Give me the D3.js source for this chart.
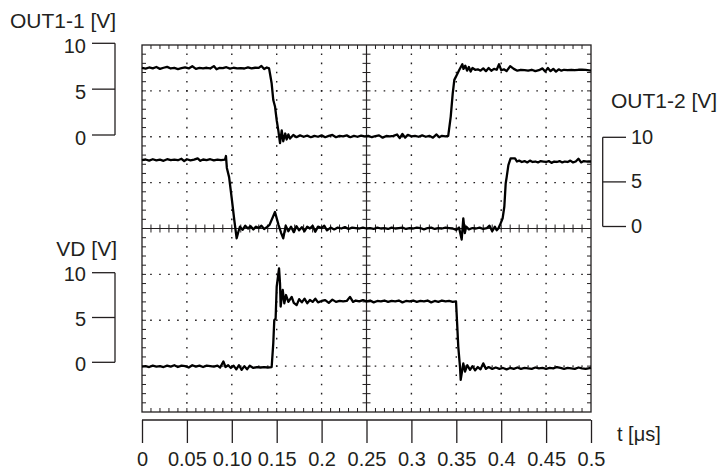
<!DOCTYPE html>
<html><head><meta charset="utf-8">
<script src="https://cdn.jsdelivr.net/npm/d3@7"></script>
<style>
html,body{margin:0;padding:0;background:#fff;}
svg{display:block;}
text{font-family:"Liberation Sans",Arial,Helvetica,sans-serif;fill:#231f20;}
</style></head>
<body>
<svg id="chart" width="721" height="471"></svg>
<script>
// ---------- data ----------
const timeTicks = [0,0.05,0.10,0.15,0.2,0.25,0.3,0.35,0.4,0.45,0.5];
const timeTickLabels = ["0","0.05","0.10","0.15","0.2","0.25","0.3","0.35","0.4","0.45","0.5"];
const voltTicks = [0,5,10];
const voltTickLabels = ["0","5","10"];
const titles = {out11:"OUT1-1 [V]", out12:"OUT1-2 [V]", vd:"VD [V]", t:"t [μs]"};

const out11 = [[0,7.5],[0.004,7.42],[0.008,7.55],[0.012,7.45],[0.016,7.6],[0.02,7.4],[0.024,7.52],[0.028,7.62],[0.032,7.44],[0.036,7.5],[0.04,7.38],[0.044,7.47],[0.048,7.55],[0.052,7.45],[0.056,7.68],[0.06,7.4],[0.064,7.5],[0.068,7.46],[0.072,7.52],[0.076,7.44],[0.08,7.7],[0.083,7.36],[0.086,7.5],[0.09,7.47],[0.094,7.58],[0.098,7.42],[0.102,7.52],[0.106,7.46],[0.11,7.48],[0.114,7.44],[0.118,7.55],[0.122,7.45],[0.126,7.52],[0.13,7.5],[0.133,7.72],[0.136,7.38],[0.139,7.55],[0.1415,7.45],[0.1425,6.9],[0.1444,5.8],[0.1462,4.0],[0.1481,3.3],[0.15,1.8],[0.1518,0.7],[0.1537,-0.7],[0.1556,0.7],[0.1573,-0.5],[0.1595,0.35],[0.1611,-0.3],[0.163,0.25],[0.1648,-0.2],[0.1685,0.2],[0.172,-0.05],[0.176,0.15],[0.18,0.0],[0.184,0.12],[0.188,-0.05],[0.192,0.1],[0.196,0.0],[0.2,0.15],[0.204,-0.05],[0.208,0.1],[0.212,0.2],[0.216,-0.05],[0.22,0.1],[0.224,0.05],[0.228,0.15],[0.232,-0.05],[0.236,0.1],[0.24,0.0],[0.244,0.12],[0.248,0.05],[0.252,0.1],[0.256,-0.05],[0.26,0.08],[0.264,0.15],[0.268,-0.1],[0.272,0.08],[0.276,0.05],[0.28,0.1],[0.284,0.25],[0.287,-0.15],[0.29,0.3],[0.293,-0.1],[0.296,0.2],[0.3,0.05],[0.304,0.1],[0.308,0.0],[0.312,0.15],[0.316,0.0],[0.32,0.1],[0.324,-0.1],[0.328,0.25],[0.331,-0.05],[0.334,0.1],[0.338,0.05],[0.341,0.1],[0.3438,2.2],[0.346,4.7],[0.3478,6.2],[0.3504,6.7],[0.3534,7.3],[0.3567,7.9],[0.358,7.4],[0.36,7.75],[0.362,7.2],[0.364,7.6],[0.366,7.1],[0.368,7.5],[0.371,7.3],[0.374,7.35],[0.377,7.2],[0.38,7.45],[0.383,7.15],[0.386,7.5],[0.389,7.2],[0.392,7.4],[0.395,7.3],[0.3976,7.9],[0.4,7.25],[0.403,7.35],[0.406,7.15],[0.41,7.7],[0.414,7.4],[0.418,7.2],[0.422,7.3],[0.426,7.25],[0.43,7.2],[0.434,7.3],[0.438,7.15],[0.442,7.25],[0.446,7.45],[0.449,7.1],[0.452,7.5],[0.455,7.15],[0.458,7.4],[0.461,7.1],[0.464,7.35],[0.467,7.2],[0.47,7.3],[0.474,7.25],[0.478,7.3],[0.482,7.25],[0.486,7.3],[0.49,7.3],[0.494,7.28],[0.5,7.2]];

const out12 = [[0,7.45],[0.004,7.52],[0.008,7.4],[0.012,7.55],[0.016,7.42],[0.02,7.5],[0.024,7.38],[0.028,7.55],[0.032,7.45],[0.036,7.5],[0.04,7.44],[0.044,7.6],[0.047,7.35],[0.05,7.55],[0.054,7.42],[0.058,7.5],[0.062,7.65],[0.065,7.38],[0.068,7.52],[0.072,7.45],[0.076,7.55],[0.08,7.42],[0.084,7.5],[0.088,7.45],[0.0924,7.5],[0.0935,7.9],[0.0945,6.6],[0.097,5.6],[0.0999,3.3],[0.1028,0.9],[0.1054,-1.07],[0.1075,-0.3],[0.1091,0.2],[0.112,-0.15],[0.115,0.3],[0.118,0.0],[0.121,0.25],[0.124,-0.1],[0.127,0.2],[0.13,0.05],[0.133,0.3],[0.136,-0.05],[0.139,0.15],[0.142,0.4],[0.1481,1.8],[0.152,0.4],[0.155,-0.5],[0.1573,-1.07],[0.16,0.3],[0.163,-0.3],[0.166,0.2],[0.169,-0.4],[0.172,0.25],[0.175,-0.2],[0.178,0.15],[0.181,-0.3],[0.184,0.2],[0.187,0.0],[0.19,0.3],[0.193,-0.35],[0.196,0.2],[0.2,0.05],[0.203,0.3],[0.206,-0.2],[0.21,0.1],[0.214,-0.1],[0.218,0.1],[0.222,0.0],[0.226,0.15],[0.23,-0.05],[0.234,0.1],[0.238,0.05],[0.242,0.0],[0.246,0.1],[0.25,0.0],[0.254,0.05],[0.258,-0.05],[0.262,0.1],[0.266,0.0],[0.27,0.05],[0.274,-0.05],[0.278,0.1],[0.282,0.0],[0.286,0.05],[0.29,0.1],[0.294,-0.05],[0.298,0.05],[0.302,0.0],[0.306,0.1],[0.31,0.05],[0.314,-0.1],[0.318,0.05],[0.322,0.1],[0.326,-0.05],[0.33,0.05],[0.334,0.0],[0.338,0.1],[0.342,0.05],[0.346,0.0],[0.35,-0.15],[0.353,0.1],[0.356,-1.2],[0.3578,1.1],[0.3595,-0.5],[0.361,0.2],[0.364,-0.1],[0.368,0.05],[0.372,0.0],[0.376,0.1],[0.38,-0.05],[0.384,0.05],[0.387,0.3],[0.39,-0.3],[0.393,0.2],[0.395,-0.2],[0.3968,0.0],[0.3987,0.4],[0.4016,1.1],[0.4035,2.4],[0.405,4.9],[0.4061,5.6],[0.408,6.9],[0.4105,7.65],[0.4154,7.65],[0.4175,7.3],[0.42,7.4],[0.423,7.25],[0.426,7.35],[0.429,7.2],[0.432,7.4],[0.435,7.25],[0.438,7.3],[0.441,7.2],[0.444,7.35],[0.447,7.3],[0.45,7.25],[0.453,7.35],[0.456,7.15],[0.459,7.3],[0.462,7.25],[0.465,7.35],[0.468,7.2],[0.471,7.3],[0.474,7.25],[0.477,7.4],[0.48,7.2],[0.483,7.3],[0.486,7.6],[0.489,7.2],[0.492,7.35],[0.496,7.3],[0.5,7.3]];

const vd = [[0,-0.05],[0.004,0.0],[0.008,-0.1],[0.012,0.05],[0.016,-0.05],[0.02,0.0],[0.024,-0.1],[0.028,0.05],[0.032,-0.05],[0.036,0.1],[0.04,-0.1],[0.044,0.05],[0.048,0.0],[0.052,-0.15],[0.056,0.1],[0.06,-0.05],[0.064,0.05],[0.068,-0.1],[0.072,0.05],[0.076,0.0],[0.08,-0.05],[0.084,0.05],[0.087,-0.15],[0.0906,0.5],[0.093,-0.1],[0.096,0.1],[0.099,-0.2],[0.102,0.05],[0.105,-0.35],[0.108,0.1],[0.111,-0.4],[0.114,0.0],[0.117,-0.35],[0.12,0.05],[0.124,-0.2],[0.128,-0.1],[0.132,-0.15],[0.136,-0.1],[0.14,-0.15],[0.1444,-0.1],[0.1462,2.5],[0.1473,5.0],[0.1488,5.2],[0.15,8.65],[0.1526,10.66],[0.1537,9.0],[0.1544,6.5],[0.1567,8.3],[0.1585,6.85],[0.1604,7.75],[0.163,7.0],[0.1667,7.55],[0.169,6.9],[0.1722,6.65],[0.175,7.3],[0.178,6.95],[0.181,7.35],[0.184,6.85],[0.187,7.2],[0.19,7.0],[0.193,7.35],[0.196,6.95],[0.2,7.1],[0.204,7.2],[0.208,6.9],[0.212,7.25],[0.216,7.0],[0.22,7.1],[0.224,7.05],[0.228,7.1],[0.2316,7.55],[0.235,7.0],[0.238,7.15],[0.242,7.05],[0.246,7.2],[0.25,7.05],[0.254,7.15],[0.258,6.95],[0.262,7.1],[0.266,7.05],[0.27,7.15],[0.274,7.0],[0.278,7.1],[0.282,7.05],[0.286,7.15],[0.29,6.95],[0.294,7.1],[0.298,7.05],[0.302,7.15],[0.306,7.0],[0.31,7.1],[0.314,7.05],[0.318,7.15],[0.322,6.95],[0.326,7.1],[0.33,7.0],[0.334,7.15],[0.338,7.05],[0.342,7.1],[0.346,7.0],[0.3497,7.05],[0.3511,4.3],[0.3522,2.1],[0.3541,-0.05],[0.3549,-1.5],[0.3578,0.3],[0.3597,-0.6],[0.3623,0.1],[0.3653,-0.4],[0.368,0.0],[0.371,-0.45],[0.374,-0.1],[0.377,-0.35],[0.38,0.3],[0.383,-0.3],[0.386,-0.1],[0.39,-0.3],[0.394,-0.15],[0.398,-0.3],[0.402,-0.2],[0.406,-0.35],[0.41,-0.2],[0.414,-0.3],[0.418,-0.15],[0.422,-0.3],[0.426,-0.2],[0.43,-0.25],[0.434,-0.3],[0.438,-0.15],[0.442,-0.25],[0.446,-0.2],[0.45,-0.3],[0.454,-0.2],[0.458,-0.25],[0.462,-0.1],[0.466,-0.2],[0.47,-0.3],[0.474,-0.2],[0.478,-0.25],[0.482,-0.3],[0.486,-0.15],[0.49,-0.25],[0.494,-0.3],[0.5,-0.2]];

// ---------- layout ----------
const svg = d3.select("#chart");
const L = 142, R = 591, T = 45, B = 412;
const nX = 10, nY = 8;
const divX = (R - L) / nX, divY = (B - T) / nY;

const x = d3.scaleLinear().domain([0, 0.5]).range([L, R]);
// trace scales (10 V = 2 divisions)
const yTop = d3.scaleLinear().domain([0, 10]).range([T + 2 * divY, T]);
const yMid = d3.scaleLinear().domain([0, 10]).range([T + 4 * divY, T + 2 * divY]);
const yBot = d3.scaleLinear().domain([0, 10]).range([T + 7 * divY, T + 5 * divY]);
// bracket axis scales
const aTop = d3.scaleLinear().domain([0, 10]).range([135, 43.3]);
const aMid = d3.scaleLinear().domain([0, 10]).range([226.5, 137.3]);
const aBot = d3.scaleLinear().domain([0, 10]).range([362.3, 272.7]);

const ink = "#231f20";
const grid = svg.append("g");

// dotted grid
for (let i = 1; i < nX; i++) {
  if (i === nX / 2) continue;
  const gx = L + i * divX;
  grid.append("line").attr("x1", gx).attr("x2", gx).attr("y1", T).attr("y2", B)
    .attr("stroke", ink).attr("stroke-width", 1.4)
    .attr("stroke-dasharray", `1.6,${(divY / 5 - 1.6).toFixed(3)}`)
    .attr("stroke-dashoffset", 0.8);
}
for (let j = 1; j < nY; j++) {
  if (j === nY / 2) continue;
  const gy = T + j * divY;
  grid.append("line").attr("x1", L).attr("x2", R).attr("y1", gy).attr("y2", gy)
    .attr("stroke", ink).attr("stroke-width", 1.4)
    .attr("stroke-dasharray", `1.6,${(divX / 5 - 1.6).toFixed(3)}`)
    .attr("stroke-dashoffset", 0.8);
}
// center cross
const cx = L + 5 * divX, cy = T + 4 * divY;
grid.append("line").attr("x1", cx).attr("x2", cx).attr("y1", T).attr("y2", B).attr("stroke", ink).attr("stroke-width", 1.2);
grid.append("line").attr("x1", L).attr("x2", R).attr("y1", cy).attr("y2", cy).attr("stroke", ink).attr("stroke-width", 1.2);

// minor ticks
const tk = 4;
for (let i = 1; i < nX * 5; i++) {
  const px = L + i * divX / 5;
  grid.append("line").attr("x1", px).attr("x2", px).attr("y1", T).attr("y2", T + tk).attr("stroke", ink).attr("stroke-width", 1);
  grid.append("line").attr("x1", px).attr("x2", px).attr("y1", B).attr("y2", B - tk).attr("stroke", ink).attr("stroke-width", 1);
  grid.append("line").attr("x1", px).attr("x2", px).attr("y1", cy - tk).attr("y2", cy + tk).attr("stroke", ink).attr("stroke-width", 1);
}
for (let j = 1; j < nY * 5; j++) {
  const py = T + j * divY / 5;
  grid.append("line").attr("y1", py).attr("y2", py).attr("x1", L).attr("x2", L + tk).attr("stroke", ink).attr("stroke-width", 1);
  grid.append("line").attr("y1", py).attr("y2", py).attr("x1", R).attr("x2", R - tk).attr("stroke", ink).attr("stroke-width", 1);
  grid.append("line").attr("y1", py).attr("y2", py).attr("x1", cx - tk).attr("x2", cx + tk).attr("stroke", ink).attr("stroke-width", 1);
}
// border
grid.append("rect").attr("x", L).attr("y", T).attr("width", R - L).attr("height", B - T)
  .attr("fill", "none").attr("stroke", ink).attr("stroke-width", 1.3);

// traces
const traces = svg.append("g");
[[out11, yTop], [out12, yMid], [vd, yBot]].forEach(([data, ys]) => {
  const line = d3.line().x(d => x(d[0])).y(d => ys(d[1]));
  traces.append("path").datum(data).attr("d", line)
    .attr("fill", "none").attr("stroke", "#000").attr("stroke-width", 2.3)
    .attr("stroke-linejoin", "round");
});

// bracket axes
function bracket(scale, xLine, xTickEnd, labelX, anchor, dy) {
  const g = svg.append("g");
  g.append("line").attr("x1", xLine).attr("x2", xLine)
    .attr("y1", scale(10)).attr("y2", scale(0)).attr("stroke", ink).attr("stroke-width", 1.3);
  voltTicks.forEach((v, i) => {
    g.append("line").attr("x1", xLine).attr("x2", xTickEnd)
      .attr("y1", scale(v)).attr("y2", scale(v)).attr("stroke", ink).attr("stroke-width", 1.3);
    g.append("text").attr("x", labelX).attr("y", scale(v) + dy + 7.2)
      .attr("text-anchor", anchor).attr("font-size", 20).text(voltTickLabels[i]);
  });
}
bracket(aTop, 115, 92, 86, "end", 2.7);
bracket(aMid, 602.7, 626, 631, "start", -1);
bracket(aBot, 115, 92, 86, "end", 1.5);

// titles
svg.append("text").attr("x", 10).attr("y", 28).attr("font-size", 21).text(titles.out11);
svg.append("text").attr("x", 611).attr("y", 107.5).attr("font-size", 21).text(titles.out12);
svg.append("text").attr("x", 117).attr("y", 255.5).attr("text-anchor", "end").attr("font-size", 21).text(titles.vd);
svg.append("text").attr("x", 617).attr("y", 441).attr("font-size", 20).text(titles.t);

// time axis
const xAxisY = 420;
const xa = svg.append("g").attr("transform", `translate(0,${xAxisY})`)
  .call(d3.axisBottom(x).tickValues(timeTicks).tickSize(23).tickPadding(9)
    .tickFormat((d, i) => timeTickLabels[i]));
xa.select(".domain").attr("stroke", ink).attr("stroke-width", 1.3).attr("d", `M${L},0H${R}`);
xa.selectAll(".tick line").attr("stroke", ink).attr("stroke-width", 1.3);
xa.selectAll(".tick text").attr("font-size", 20).attr("font-family", "Liberation Sans, Arial, sans-serif").attr("fill", ink);
</script>
</body></html>
